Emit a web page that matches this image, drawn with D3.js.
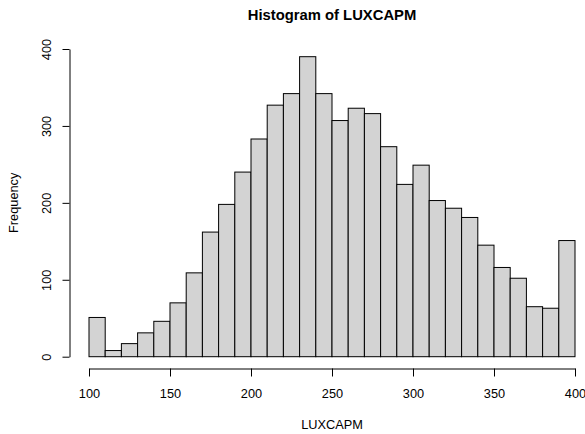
<!DOCTYPE html>
<html>
<head>
<meta charset="utf-8">
<script src="https://cdn.jsdelivr.net/npm/d3@7"></script>
<style>
  body { margin: 0; background: #fff; }
  text { font-family: "Liberation Sans", Arial, sans-serif; }
</style>
</head>
<body>
<div id="chart"></div>
<script>
"use strict";

// histogram bins (width 10) and their counts
var breaks = d3.range(100, 401, 10);
var counts = [51, 8, 17, 31, 46, 70, 109, 162, 198, 240,
              283, 327, 342, 390, 342, 307, 323, 316, 273, 224,
              249, 203, 193, 181, 145, 116, 102, 65, 63, 151];
var xTicks = [100, 150, 200, 250, 300, 350, 400];
var yTicks = [0, 100, 200, 300, 400];

var bins = counts.map(function(c, i) {
  return {x0: breaks[i], x1: breaks[i + 1], count: c};
});

var width = 585, height = 434;

var svg = d3.select("#chart")
  .append("svg")
    .attr("width", width)
    .attr("height", height);

// scales
var x = d3.scaleLinear().domain([100, 400]).range([89, 575]);
var y = d3.scaleLinear().domain([0, 400]).range([356.7, 49]);

// the bars
svg.selectAll("rect.bar")
  .data(bins)
  .enter()
  .append("rect")
    .attr("class", "bar")
    .attr("x", function(d) { return x(d.x0); })
    .attr("y", function(d) { return y(d.count); })
    .attr("width", function(d) { return x(d.x1) - x(d.x0); })
    .attr("height", function(d) { return y(0) - y(d.count); })
    .style("fill", "#d3d3d3")
    .style("stroke", "#000")
    .style("stroke-width", 1);

// x axis
var xAxis = svg.append("g")
  .attr("transform", "translate(0,368.5)")
  .call(d3.axisBottom(x).tickValues(xTicks).tickSize(8).tickSizeOuter(0).tickFormat(d3.format("d")));
xAxis.selectAll("text")
  .attr("y", 20)
  .attr("dy", "0.71em")
  .style("font-size", "12.75px")
  .style("fill", "#000");

// y axis
var yAxis = svg.append("g")
  .attr("transform", "translate(69.5,0)")
  .call(d3.axisLeft(y).tickValues(yTicks).tickSize(7).tickSizeOuter(0).tickFormat(d3.format("d")));
yAxis.selectAll("text")
  .attr("x", 0)
  .attr("y", 0)
  .attr("dy", "0.35em")
  .attr("text-anchor", "middle")
  .attr("transform", "translate(-22.5,0) rotate(-90)")
  .style("font-size", "12.75px")
  .style("fill", "#000");

svg.selectAll(".domain, .tick line").style("stroke", "#000");
svg.selectAll("g").attr("font-family", null);

// title
svg.append("text")
  .attr("x", 332)
  .attr("y", 19.5)
  .attr("text-anchor", "middle")
  .style("font-size", "14.8px")
  .style("font-weight", "bold")
  .text("Histogram of LUXCAPM");

// axis labels
svg.append("text")
  .attr("x", 332)
  .attr("y", 428.7)
  .attr("text-anchor", "middle")
  .style("font-size", "12.75px")
  .text("LUXCAPM");

svg.append("text")
  .attr("transform", "translate(18,202.8) rotate(-90)")
  .attr("text-anchor", "middle")
  .style("font-size", "12.75px")
  .text("Frequency");
</script>
</body>
</html>
